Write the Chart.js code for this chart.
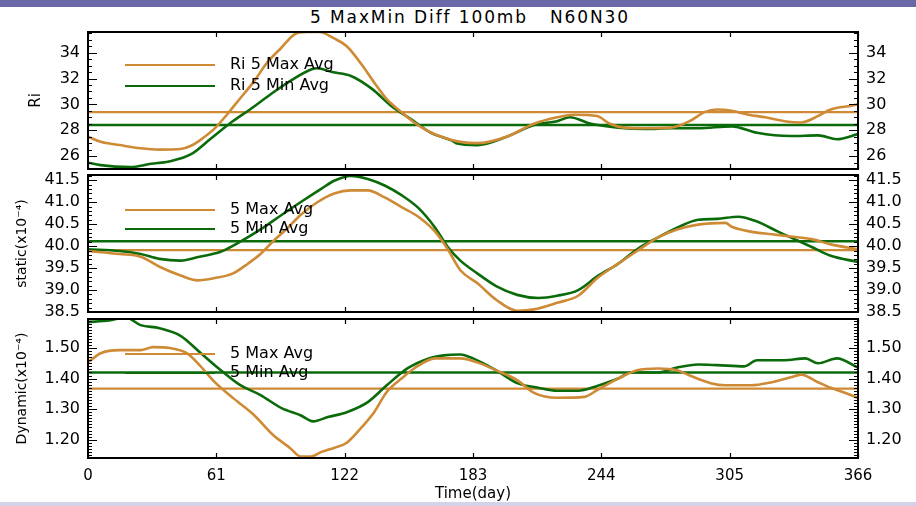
<!DOCTYPE html>
<html><head><meta charset="utf-8">
<script src="https://cdn.jsdelivr.net/npm/chart.js@4.4.1/dist/chart.umd.min.js"></script>
<style>
html,body{margin:0;padding:0;background:#fff;}
#wrap{position:relative;width:916px;height:506px;overflow:hidden;background:#fff;font-family:"DejaVu Sans",sans-serif;}
.band-top{position:absolute;left:0;top:0;width:916px;height:7px;background:#6b68a8;}
.band-bot{position:absolute;left:0;top:502px;width:916px;height:4px;background:#d3d3ea;}
#title{position:absolute;left:310px;top:7px;font-size:17px;color:#000;white-space:pre;letter-spacing:1.9px;}
canvas{position:absolute;left:0;}
</style></head>
<body><div id="wrap">
<div class="band-top"></div>
<div id="title">5 MaxMin Diff 100mb   N60N30</div>
<canvas id="c1" width="916" height="177" style="top:12px"></canvas>
<canvas id="c2" width="916" height="177" style="top:155px"></canvas>
<canvas id="c3" width="916" height="207" style="top:299px"></canvas>
<div class="band-bot"></div>
</div>
<script>
// ---------- DATA ----------
const xTicks = [0, 61, 122, 183, 244, 305, 366];

// Panel 1: Ri
const riMaxDays = [0,6,15,25,34,44,49,53,60,66,72,79,85,92,98,104,110,117,123,130,136,142,149,155,162,168,177,185,199,212,223,231,242,248,255,265,277,286,293,299,306,314,322,331,339,347,353,363,366];
const riMaxVals = [27.5,27.1,26.85,26.6,26.5,26.55,26.8,27.2,28.1,29.2,30.4,31.8,33.2,34.4,35.4,35.6,35.6,35.1,34.5,33.1,31.7,30.4,29.4,28.6,27.9,27.5,27.1,27.0,27.5,28.5,29.0,29.2,29.1,28.5,28.2,28.15,28.2,28.7,29.4,29.6,29.5,29.2,29.0,28.7,28.6,29.1,29.6,29.9,30.0];
const riMinDays = [0,6,20,30,39,49,58,68,77,87,96,106,109,116,125,135,144,154,163,173,175,185,199,212,223,229,239,252,265,277,290,306,318,334,347,356,366];
const riMinVals = [25.5,25.3,25.15,25.4,25.6,26.15,27.3,28.6,29.6,30.8,31.8,32.7,32.8,32.5,32.2,31.2,29.9,28.8,27.8,27.2,27.0,26.85,27.5,28.4,28.7,29.0,28.5,28.2,28.1,28.15,28.15,28.3,27.8,27.55,27.6,27.3,27.7];
const riMaxAvg = 29.4;
const riMinAvg = 28.4;
const riTicks = [26, 28, 30, 32, 34];

// Panel 2: static
const stMaxDays = [0,15,25,34,44,52,60,69,76,82,88,95,101,109,117,125,133,141,149,157,165,171,177,185,194,204,212,223,233,242,252,261,271,280,290,303,306,315,325,334,344,353,366];
const stMaxVals = [39.89,39.82,39.76,39.53,39.33,39.22,39.27,39.38,39.6,39.82,40.11,40.42,40.71,41.0,41.2,41.27,41.27,41.11,40.89,40.67,40.33,39.93,39.45,39.16,38.78,38.53,38.56,38.71,38.87,39.27,39.6,39.89,40.2,40.38,40.49,40.53,40.44,40.33,40.27,40.22,40.16,40.04,39.93];
const stMinDays = [0,15,25,34,44,53,63,72,82,92,101,111,117,125,133,141,149,157,165,171,177,185,194,204,214,223,233,242,252,261,271,280,290,299,309,318,328,334,344,353,366];
const stMinVals = [39.93,39.89,39.82,39.71,39.67,39.76,39.87,40.09,40.38,40.71,41.0,41.31,41.49,41.6,41.53,41.38,41.16,40.87,40.42,39.98,39.67,39.38,39.09,38.89,38.82,38.87,39.0,39.31,39.6,39.93,40.2,40.42,40.6,40.62,40.67,40.56,40.33,40.2,39.98,39.78,39.64];
const stMaxAvg = 39.91;
const stMinAvg = 40.11;
const stTicks = [38.5, 39.0, 39.5, 40.0, 40.5, 41.0, 41.5];

// Panel 3: dynamic
const dyMaxDays = [0,6,15,25,31,39,47,53,60,69,79,88,96,101,106,111,117,123,130,136,142,149,155,165,177,185,194,204,212,223,236,242,252,261,271,280,286,296,303,315,325,334,339,347,353,360,366];
const dyMaxVals = [1.453,1.483,1.493,1.493,1.503,1.50,1.483,1.444,1.39,1.336,1.28,1.215,1.173,1.145,1.145,1.16,1.173,1.19,1.24,1.29,1.356,1.40,1.433,1.466,1.466,1.453,1.427,1.395,1.353,1.337,1.34,1.362,1.40,1.427,1.433,1.427,1.41,1.385,1.378,1.378,1.388,1.404,1.413,1.388,1.37,1.353,1.337];
const dyMinDays = [0,10,18,25,34,44,53,63,72,82,92,101,107,114,123,133,142,152,162,169,177,183,194,204,214,223,233,242,252,258,271,280,290,299,312,318,331,341,347,356,366];
const dyMinVals = [1.585,1.59,1.60,1.575,1.565,1.54,1.487,1.428,1.38,1.346,1.303,1.28,1.26,1.274,1.29,1.323,1.378,1.434,1.466,1.476,1.479,1.466,1.427,1.385,1.37,1.36,1.36,1.376,1.40,1.42,1.42,1.436,1.446,1.444,1.44,1.46,1.46,1.466,1.45,1.466,1.436];
const dyMaxAvg = 1.367;
const dyMinAvg = 1.42;
const dyTicks = [1.20, 1.30, 1.40, 1.50];

// ---------- STYLE ----------
const ORANGE = '#cf8a35';
const GREEN = '#0b6b0b';
const FONT = '"DejaVu Sans", sans-serif';

function zip(xs, ys) { return xs.map((x, i) => ({x: x, y: ys[i]})); }

function framePlugin(p) {
  return {
    id: 'frame' + p.id,
    afterDatasetsDraw(chart) {
      const ctx = chart.ctx, a = chart.chartArea;
      const ys = chart.scales.y, xs = chart.scales.x;
      ctx.save();
      ctx.strokeStyle = '#000';
      ctx.lineWidth = 1.2;
      const n = Math.round((p.max - p.tickStart) / p.minor);
      for (let i = 0; i <= n; i++) {
        const v = p.tickStart + i * p.minor;
        if (v < p.min - 1e-9 || v > p.max + 1e-9) continue;
        const r = (v - p.majorBase) / p.major;
        const major = Math.abs(r - Math.round(r)) < 0.02;
        const len = major ? 9 : 4;
        const y = Math.round(ys.getPixelForValue(v)) + 0.5;
        ctx.beginPath();
        ctx.moveTo(a.left, y); ctx.lineTo(a.left + len, y);
        ctx.moveTo(a.right, y); ctx.lineTo(a.right - len, y);
        ctx.stroke();
      }
      xTicks.forEach(v => {
        const x = Math.round(xs.getPixelForValue(v)) + 0.5;
        ctx.beginPath();
        ctx.moveTo(x, a.top); ctx.lineTo(x, a.top + 5);
        ctx.moveTo(x, a.bottom); ctx.lineTo(x, a.bottom - 5);
        ctx.stroke();
      });
      ctx.lineWidth = 2;
      ctx.strokeRect(a.left, a.top, a.right - a.left, a.bottom - a.top);
      ctx.font = '16px ' + FONT;
      ctx.fillStyle = '#000';
      ctx.textBaseline = 'middle';
      const items = [[ORANGE, p.leg[0], p.legY[0]], [GREEN, p.leg[1], p.legY[1]]];
      items.forEach(([c, t, dy]) => {
        const y = a.top + dy;
        ctx.strokeStyle = c; ctx.lineWidth = 2;
        ctx.beginPath(); ctx.moveTo(a.left + 37, y); ctx.lineTo(a.left + 127, y); ctx.stroke();
        ctx.fillText(t, a.left + 142, y);
      });
      ctx.restore();
    }
  };
}

function makePanel(p) {
  const tickFont = {family: FONT, size: 16};
  const yCommon = {
    type: 'linear', min: p.min, max: p.max,
    afterBuildTicks(s) { s.ticks = p.ticks.map(v => ({value: v})); },
    grid: {display: false, drawTicks: false},
    border: {display: false},
    ticks: {color: '#000', font: tickFont, padding: 8, autoSkip: false, callback: v => v.toFixed(p.dec)}
  };
  new Chart(document.getElementById(p.id), {
    type: 'line',
    data: {datasets: [
      {data: zip(p.maxDays, p.maxVals), borderColor: ORANGE, borderWidth: 2.6, pointRadius: 0, cubicInterpolationMode: 'monotone', yAxisID: 'y'},
      {data: zip(p.minDays, p.minVals), borderColor: GREEN, borderWidth: 2.6, pointRadius: 0, cubicInterpolationMode: 'monotone', yAxisID: 'y'},
      {data: [{x: 0, y: p.maxAvg}, {x: 366, y: p.maxAvg}], borderColor: ORANGE, borderWidth: 2.2, pointRadius: 0, yAxisID: 'y'},
      {data: [{x: 0, y: p.minAvg}, {x: 366, y: p.minAvg}], borderColor: GREEN, borderWidth: 2.6, pointRadius: 0, yAxisID: 'y'}
    ]},
    options: {
      responsive: false, animation: false,
      layout: {padding: {top: p.padTop, bottom: p.padBottom, left: 0, right: 0}},
      plugins: {legend: {display: false}, tooltip: {enabled: false}},
      scales: {
        x: {
          type: 'linear', min: 0, max: 366, display: p.showX,
          afterFit(s) { s.height = p.showX ? 48 : 0; },
          afterBuildTicks(s) { s.ticks = xTicks.map(v => ({value: v})); },
          grid: {display: false, drawTicks: false},
          border: {display: false},
          ticks: {color: '#000', font: {family: FONT, size: 15}, padding: 9, maxRotation: 0, autoSkip: false},
          title: {display: true, text: 'Time(day)', color: '#000', font: {family: FONT, size: 15}, padding: {top: 0, bottom: 3}}
        },
        y: Object.assign({}, yCommon, {
          position: 'left',
          afterFit(s) { s.width = 88; },
          title: {display: true, text: p.yTitle, color: '#000', font: {family: FONT, size: p.titleSize}, padding: {top: p.titlePad, bottom: 0}}
        }),
        y2: Object.assign({}, yCommon, {
          position: 'right',
          afterFit(s) { s.width = 58; }
        })
      }
    },
    plugins: [framePlugin(p)]
  });
}

makePanel({id: 'c1', min: 25.0, max: 35.6, ticks: riTicks, dec: 0, tickStart: 25.0, minor: 0.5, major: 2, majorBase: 26,
  maxDays: riMaxDays, maxVals: riMaxVals, minDays: riMinDays, minVals: riMinVals, maxAvg: riMaxAvg, minAvg: riMinAvg,
  padTop: 20, padBottom: 20, showX: false, yTitle: 'Ri', titleSize: 15, titlePad: 27,
  leg: ['Ri 5 Max Avg', 'Ri 5 Min Avg'], legY: [33, 54]});
makePanel({id: 'c2', min: 38.5, max: 41.62, ticks: stTicks, dec: 1, tickStart: 38.5, minor: 0.1, major: 0.5, majorBase: 38.5,
  maxDays: stMaxDays, maxVals: stMaxVals, minDays: stMinDays, minVals: stMinVals, maxAvg: stMaxAvg, minAvg: stMinAvg,
  padTop: 20, padBottom: 20, showX: false, yTitle: 'static(x10⁻⁴)', titleSize: 14, titlePad: 14,
  leg: ['5 Max Avg', '5 Min Avg'], legY: [35, 54]});
makePanel({id: 'c3', min: 1.14, max: 1.595, ticks: dyTicks, dec: 2, tickStart: 1.14, minor: 0.01, major: 0.1, majorBase: 1.2,
  maxDays: dyMaxDays, maxVals: dyMaxVals, minDays: dyMinDays, minVals: dyMinVals, maxAvg: dyMaxAvg, minAvg: dyMinAvg,
  padTop: 20, padBottom: 0, showX: true, yTitle: 'Dynamic(x10⁻⁴)', titleSize: 14, titlePad: 14,
  leg: ['5 Max Avg', '5 Min Avg'], legY: [35, 54]});
</script>
</body></html>
